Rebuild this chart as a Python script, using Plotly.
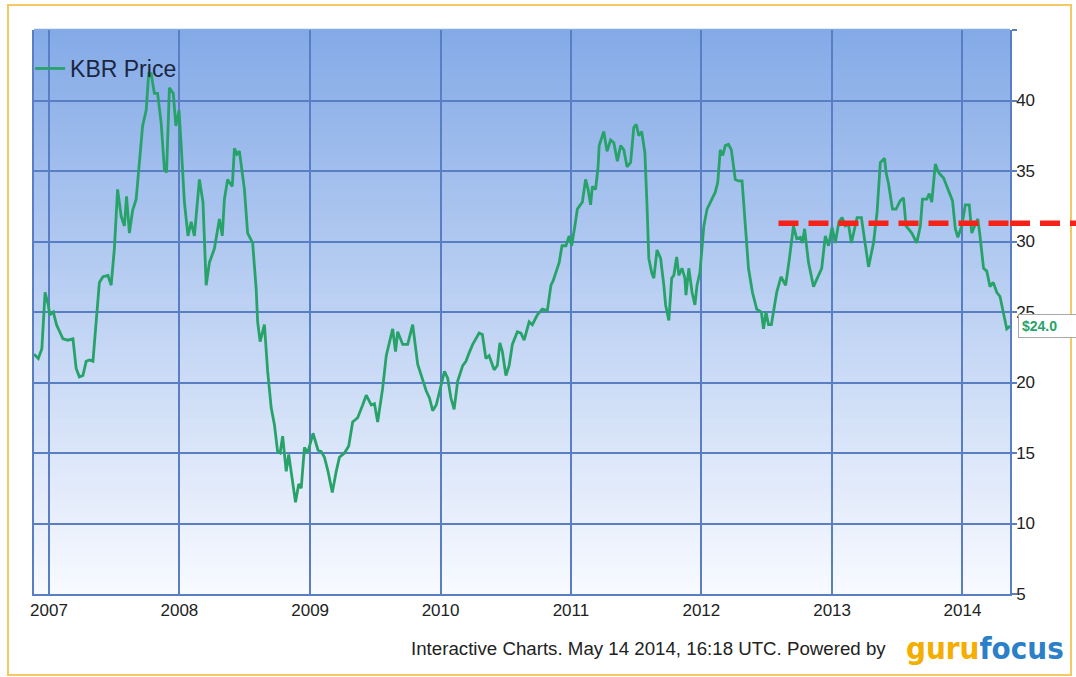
import plotly.graph_objects as go

# ---------------- data ----------------
dates = [
    "2006-11-20", "2006-12-02", "2006-12-12", "2006-12-21", "2006-12-30",
    "2007-01-03", "2007-01-13", "2007-01-22", "2007-01-31", "2007-02-09", "2007-02-23",
    "2007-03-09", "2007-03-18", "2007-03-27", "2007-04-06", "2007-04-15", "2007-04-24",
    "2007-05-04", "2007-05-13", "2007-05-22", "2007-06-01", "2007-06-15", "2007-06-24",
    "2007-07-03", "2007-07-12", "2007-07-22", "2007-07-31", "2007-08-06", "2007-08-14",
    "2007-08-23", "2007-09-02", "2007-09-11", "2007-09-20", "2007-09-30", "2007-10-07",
    "2007-10-14", "2007-10-23", "2007-11-01", "2007-11-11", "2007-11-20", "2007-11-26",
    "2007-12-04", "2007-12-15", "2007-12-22", "2007-12-31",
    "2008-01-06", "2008-01-15", "2008-01-25", "2008-02-03", "2008-02-12", "2008-02-26",
    "2008-03-07", "2008-03-16", "2008-03-25", "2008-04-08", "2008-04-22", "2008-04-30",
    "2008-05-06", "2008-05-15", "2008-05-28", "2008-06-03", "2008-06-10", "2008-06-17",
    "2008-07-01", "2008-07-10", "2008-07-24", "2008-08-03", "2008-08-07", "2008-08-14",
    "2008-08-26", "2008-09-04", "2008-09-14", "2008-09-23", "2008-10-02", "2008-10-09",
    "2008-10-16", "2008-10-26", "2008-11-02", "2008-11-09", "2008-11-21", "2008-11-30",
    "2008-12-07", "2008-12-16", "2008-12-25",
    "2009-01-09", "2009-01-23", "2009-02-01", "2009-02-10", "2009-02-20", "2009-03-04",
    "2009-03-15", "2009-03-24", "2009-04-07", "2009-04-19", "2009-04-30", "2009-05-14",
    "2009-05-28", "2009-06-07", "2009-06-21", "2009-06-30", "2009-07-09", "2009-07-23",
    "2009-08-02", "2009-08-11", "2009-08-20", "2009-08-28", "2009-09-03", "2009-09-17",
    "2009-10-01", "2009-10-15", "2009-10-20", "2009-10-29", "2009-11-08", "2009-11-22",
    "2009-12-01", "2009-12-10", "2009-12-20",
    "2010-01-02", "2010-01-12", "2010-01-21", "2010-01-30", "2010-02-08", "2010-02-18",
    "2010-03-04", "2010-03-13", "2010-03-22", "2010-04-01", "2010-04-19", "2010-04-28",
    "2010-05-08", "2010-05-17", "2010-05-31", "2010-06-09", "2010-06-16", "2010-06-23",
    "2010-07-03", "2010-07-12", "2010-07-21", "2010-08-04", "2010-08-14", "2010-08-23",
    "2010-09-06", "2010-09-15", "2010-09-29", "2010-10-13", "2010-10-27", "2010-11-06",
    "2010-11-12", "2010-11-20", "2010-11-29", "2010-12-07", "2010-12-18", "2010-12-27",
    "2011-01-03", "2011-01-12", "2011-01-19", "2011-02-02", "2011-02-11", "2011-02-18",
    "2011-02-25", "2011-03-02", "2011-03-11", "2011-03-18", "2011-03-21", "2011-04-03",
    "2011-04-12", "2011-04-22", "2011-05-01", "2011-05-11", "2011-05-20", "2011-05-29",
    "2011-06-07", "2011-06-17", "2011-06-26", "2011-07-03", "2011-07-10", "2011-07-18",
    "2011-07-27", "2011-08-02", "2011-08-07", "2011-08-15", "2011-08-21", "2011-08-30",
    "2011-09-09", "2011-09-18", "2011-09-23", "2011-10-02", "2011-10-10", "2011-10-16",
    "2011-10-24", "2011-10-30", "2011-11-08", "2011-11-16", "2011-11-19", "2011-11-27",
    "2011-12-06", "2011-12-14", "2011-12-20", "2011-12-28",
    "2012-01-08", "2012-01-17", "2012-01-31", "2012-02-09", "2012-02-16", "2012-02-23",
    "2012-03-01", "2012-03-08", "2012-03-17", "2012-03-25", "2012-04-05", "2012-04-14",
    "2012-04-24", "2012-05-03", "2012-05-12", "2012-05-23", "2012-06-04", "2012-06-17",
    "2012-06-23", "2012-06-30", "2012-07-07", "2012-07-15", "2012-07-21", "2012-07-30",
    "2012-08-11", "2012-08-24", "2012-09-03", "2012-09-15", "2012-09-24", "2012-10-04",
    "2012-10-10", "2012-10-16", "2012-10-27", "2012-11-10", "2012-11-24", "2012-12-03",
    "2012-12-13", "2012-12-22",
    "2013-01-01", "2013-01-10", "2013-01-20", "2013-01-29", "2013-02-07", "2013-02-16",
    "2013-02-24", "2013-03-05", "2013-03-12", "2013-03-24", "2013-04-02", "2013-04-13",
    "2013-04-27", "2013-05-07", "2013-05-16", "2013-05-28", "2013-06-01", "2013-06-08",
    "2013-06-19", "2013-06-29", "2013-07-11", "2013-07-20", "2013-07-27", "2013-08-12",
    "2013-08-26", "2013-09-05", "2013-09-11", "2013-09-23", "2013-09-30", "2013-10-07",
    "2013-10-17", "2013-10-26", "2013-11-09", "2013-11-23", "2013-12-04", "2013-12-12",
    "2013-12-19", "2013-12-30",
    "2014-01-09", "2014-01-20", "2014-01-27", "2014-02-04", "2014-02-13", "2014-02-19",
    "2014-03-01", "2014-03-10", "2014-03-19", "2014-03-28", "2014-04-07", "2014-04-16",
    "2014-04-25", "2014-05-05", "2014-05-14",
]

prices = [
    22.0, 21.7, 22.4, 26.4, 25.5,
    24.8, 25.0, 24.1, 23.6, 23.1, 23.0,
    23.1, 21.0, 20.4, 20.5, 21.5, 21.6,
    21.5, 24.3, 27.1, 27.5, 27.6, 26.9,
    29.5, 33.7, 31.8, 31.1, 33.2, 30.6,
    32.2, 33.0, 35.8, 38.2, 39.3, 41.9,
    41.9, 40.5, 40.5, 38.4, 35.1, 34.9,
    40.9, 40.5, 38.2, 39.3,
    36.8, 32.8, 30.4, 31.4, 30.4, 34.4,
    32.8, 26.9, 28.5, 29.5, 31.6, 30.4,
    33.0, 34.4, 33.9, 36.6, 36.2, 36.4,
    33.7, 30.6, 29.9, 26.6, 24.3, 22.9,
    24.1, 20.8, 18.2, 17.0, 15.1, 15.0,
    16.2, 13.7, 14.9, 13.5, 11.5, 12.8,
    12.5, 15.4, 15.0,
    16.4, 15.2, 15.1, 14.7, 13.7, 12.2,
    13.7, 14.7, 15.0, 15.5, 17.2, 17.5,
    18.4, 19.1, 18.4, 18.5, 17.2, 19.6,
    21.9, 22.9, 23.8, 22.2, 23.6, 22.7,
    22.7, 24.1, 23.0, 21.3, 20.5, 19.4,
    18.9, 18.0, 18.4,
    19.8, 20.8, 20.3, 18.9, 18.1, 20.1,
    21.2, 21.5, 22.1, 22.7, 23.5, 23.4,
    21.7, 21.9, 20.9, 21.2, 22.8, 22.2,
    20.5, 21.2, 22.7, 23.6, 23.5, 23.0,
    24.3, 24.1, 24.8, 25.2, 25.1, 26.9,
    27.2, 27.8, 28.5, 29.7, 29.7, 30.4,
    29.7, 31.1, 32.3, 32.8, 34.4, 33.7,
    32.6, 33.9, 33.7, 35.3, 36.8, 37.8,
    36.4, 37.2, 37.0, 35.7, 36.8, 36.5,
    35.3, 35.6, 38.1, 38.3, 37.5, 37.8,
    36.3, 32.5, 28.8, 27.8, 27.4, 29.4,
    28.8, 26.9, 25.5, 24.4, 27.4, 27.6,
    28.9, 27.6, 28.1, 27.4, 26.2, 28.1,
    26.4, 25.5, 26.9, 27.8,
    31.1, 32.3, 33.0, 33.5, 34.2, 36.5,
    36.1, 36.8, 36.9, 36.5, 34.4, 34.3,
    34.3, 31.1, 28.1, 26.4, 25.2, 25.0,
    23.8, 25.0, 24.1, 24.1, 25.0, 26.4,
    27.5, 26.9, 28.7, 31.1, 30.2, 30.3,
    29.9, 30.9, 28.5, 26.8, 27.6, 28.1,
    30.4, 29.7,
    31.0, 29.9, 31.4, 31.7, 31.1, 31.2,
    29.9, 30.9, 31.7, 31.7, 30.2, 28.2,
    29.9, 32.1, 35.6, 35.9, 34.9, 34.1,
    32.3, 32.3, 32.9, 33.1, 31.1, 30.6,
    29.9, 31.1, 33.0, 33.0, 33.4, 32.8,
    35.5, 34.9, 34.5, 33.6, 32.9, 30.9,
    30.3, 31.1,
    32.6, 32.6, 30.6, 31.1, 31.6, 30.4,
    28.1, 27.9, 26.8, 27.1, 26.4, 26.1,
    25.1, 23.8, 24.0,
]

series_name = "KBR Price"
year_ticks = ["2007-01-01", "2008-01-01", "2009-01-01", "2010-01-01",
              "2011-01-01", "2012-01-01", "2013-01-01", "2014-01-01"]
year_labels = ["2007", "2008", "2009", "2010", "2011", "2012", "2013", "2014"]
y_ticks = [5, 10, 15, 20, 25, 30, 35, 40, 45]
y_labels = ["5", "10", "15", "20", "25", "30", "35", "40", ""]
x_range = ["2006-11-20", "2014-05-14"]
y_range = [5, 45]
resistance_level = 31.3
resistance_start = "2012-08-04"
last_price = 24.0
last_label = "$24.0"
footer_text = "Interactive Charts. May 14 2014, 16:18 UTC. Powered by"

# ---------------- styles ----------------
FONT = "Liberation Sans, Arial, Helvetica, sans-serif"
GRID = "#5a7ec4"
GREEN = "#27a36a"
RED = "#f5221a"
W, H = 1076, 677
ML, MR, MT, MB = 34, 66, 30, 83
PW, PH = W - ML - MR, H - MT - MB

def px_x(p):
    return (p - ML) / PW

def px_y(p):
    return (H - MB - p) / PH

fig = go.Figure()
fig.add_trace(go.Scatter(
    x=dates, y=prices, mode="lines", name=series_name,
    line=dict(color=GREEN, width=2.8), showlegend=True,
))

shapes = []
# gradient plot background
n = 90
top = (132, 170, 231)
bot = (248, 250, 255)
for i in range(n):
    f = (i + 0.5) / n
    c = tuple(round(bot[k] + (top[k] - bot[k]) * f) for k in range(3))
    shapes.append(dict(type="rect", xref="paper", yref="paper",
                       x0=0, x1=1, y0=i / n, y1=(i + 1) / n + 0.002,
                       fillcolor="rgb(%d,%d,%d)" % c, line=dict(width=0),
                       layer="below"))
# orange frame
shapes.append(dict(type="rect", xref="paper", yref="paper",
                   x0=px_x(8), x1=px_x(1071), y0=px_y(675), y1=px_y(5),
                   line=dict(color="#f6c862", width=2), fillcolor="rgba(0,0,0,0)",
                   layer="below"))
# resistance dashed line (in plot, data coords)
shapes.append(dict(type="line", xref="x", yref="y",
                   x0=resistance_start, x1=x_range[1],
                   y0=resistance_level, y1=resistance_level,
                   line=dict(color=RED, width=5.5, dash="20px,10px"), layer="above"))
# continuation beyond the plot edge
ylev = (resistance_level - y_range[0]) / (y_range[1] - y_range[0])
shapes.append(dict(type="line", xref="paper", yref="paper",
                   x0=1.0, x1=px_x(1080), y0=ylev, y1=ylev,
                   line=dict(color=RED, width=5.5, dash="20px,10px"), layer="above"))

annotations = [
    dict(xref="paper", yref="y", x=px_x(1018), y=last_price, xanchor="left",
         yanchor="middle", text="<b>%s</b>" % last_label, showarrow=False,
         font=dict(family=FONT, size=14, color=GREEN), bgcolor="white",
         bordercolor="#a8a8a8", borderwidth=1, borderpad=3, width=66, align="left"),
    dict(xref="paper", yref="paper", x=px_x(888), y=px_y(648), xanchor="right",
         yanchor="middle", text=footer_text, showarrow=False,
         font=dict(family=FONT, size=18.7, color="#222222")),
    dict(xref="paper", yref="paper", x=px_x(904), y=px_y(648), xanchor="left",
         yanchor="middle",
         text="<b><span style='color:#f5ad00'>guru</span><span style='color:#2b80c8'>focus</span></b>",
         showarrow=False,
         font=dict(family="Liberation Sans Narrow, DejaVu Sans Condensed, Arial Narrow, Liberation Sans, sans-serif",
                   size=31)),
]

fig.update_layout(
    width=W, height=H,
    margin=dict(l=ML, r=MR, t=MT, b=MB, pad=0),
    paper_bgcolor="white", plot_bgcolor="rgba(0,0,0,0)",
    font=dict(family=FONT, size=18, color="#222222"),
    shapes=shapes, annotations=annotations,
    showlegend=True,
    legend=dict(x=-0.004, y=px_y(47), xanchor="left", yanchor="top",
                bgcolor="rgba(0,0,0,0)", borderwidth=0,
                font=dict(family=FONT, size=23, color="#1b2741"),
                itemwidth=30),
    xaxis=dict(type="date", range=x_range, tickmode="array",
               tickvals=year_ticks, ticktext=year_labels,
               showgrid=True, gridcolor=GRID, gridwidth=1.5,
               showline=True, linecolor=GRID, linewidth=1.5,
               ticks="", zeroline=False,
               tickfont=dict(family=FONT, size=17, color="#222222")),
    yaxis=dict(side="right", range=y_range, tickmode="array",
               tickvals=y_ticks, ticktext=y_labels,
               showgrid=True, gridcolor=GRID, gridwidth=1.5,
               showline=True, linecolor=GRID, linewidth=1.5, mirror=True,
               ticks="outside", ticklen=5, tickcolor=GRID, tickwidth=1.5,
               ticklabelstandoff=-4,
               zeroline=False,
               tickfont=dict(family=FONT, size=17, color="#222222")),
)

fig.write_html("out.html",
               config={"displayModeBar": False},
               post_script="document.body.style.margin='0px';document.body.style.overflow='hidden';")
